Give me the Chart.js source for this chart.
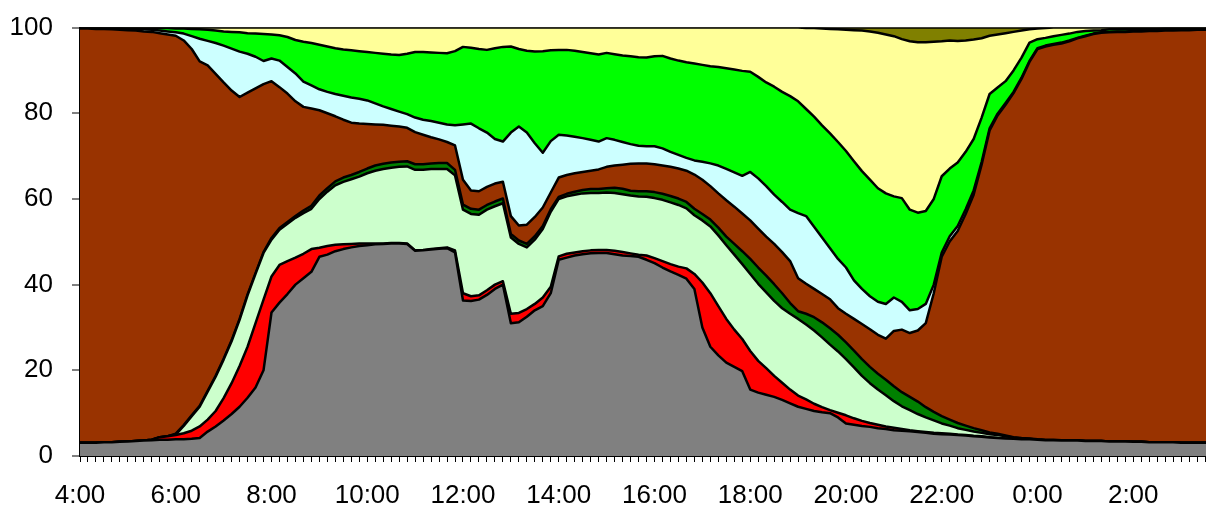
<!DOCTYPE html>
<html>
<head>
<meta charset="utf-8">
<script src="https://cdn.jsdelivr.net/npm/chart.js@4"></script>
<style>
  html, body { margin: 0; padding: 0; background: #fff; overflow: hidden; width: 1206px; height: 511px; }
  #wrap { width: 1240px; height: 518px; margin-top: -7px; }
  canvas { display: block; }
</style>
</head>
<body>
<div id="wrap"><canvas id="c" width="1240" height="518"></canvas></div>
<script>
const categories = [
'4:00','4:10','4:20','4:30','4:40','4:50','5:00','5:10','5:20','5:30','5:40','5:50',
'6:00','6:10','6:20','6:30','6:40','6:50','7:00','7:10','7:20','7:30','7:40','7:50',
'8:00','8:10','8:20','8:30','8:40','8:50','9:00','9:10','9:20','9:30','9:40','9:50',
'10:00','10:10','10:20','10:30','10:40','10:50','11:00','11:10','11:20','11:30','11:40','11:50',
'12:00','12:10','12:20','12:30','12:40','12:50','13:00','13:10','13:20','13:30','13:40','13:50',
'14:00','14:10','14:20','14:30','14:40','14:50','15:00','15:10','15:20','15:30','15:40','15:50',
'16:00','16:10','16:20','16:30','16:40','16:50','17:00','17:10','17:20','17:30','17:40','17:50',
'18:00','18:10','18:20','18:30','18:40','18:50','19:00','19:10','19:20','19:30','19:40','19:50',
'20:00','20:10','20:20','20:30','20:40','20:50','21:00','21:10','21:20','21:30','21:40','21:50',
'22:00','22:10','22:20','22:30','22:40','22:50','23:00','23:10','23:20','23:30','23:40','23:50',
'0:00','0:10','0:20','0:30','0:40','0:50','1:00','1:10','1:20','1:30','1:40','1:50',
'2:00','2:10','2:20','2:30','2:40','2:50','3:00','3:10','3:20','3:30','3:40','3:50'
];
const tickLabels = ['4:00','6:00','8:00','10:00','12:00','14:00','16:00','18:00','20:00','22:00','0:00','2:00'];
const yTicks = [0, 20, 40, 60, 80, 100];

const gray = [
3.1,3.1,3.1,3.2,3.2,3.3,3.4,3.5,3.6,3.7,
3.8,3.8,3.9,3.9,4.0,4.2,5.7,6.9,8.3,9.8,
11.5,13.6,16,20,33.5,35.8,37.8,40,41.5,43,
46.5,47,47.8,48.3,48.7,49,49.2,49.4,49.5,49.6,
49.6,49.5,47.9,48,48.2,48.4,48.5,47.5,36.3,36.2,
36.5,37.6,39,40,31,31.2,32.5,34,35,38,
45.8,46.3,46.8,47.1,47.3,47.4,47.4,47.1,46.8,46.7,
46.5,45.8,45,44,43.1,42.3,41.4,39,30,25.5,
23.5,21.8,20.8,19.8,15.5,14.8,14.3,13.8,13.1,12.3,
11.5,11,10.5,10.2,10,9,7.6,7.3,7,6.8,
6.5,6.3,6,5.9,5.8,5.6,5.4,5.2,5.1,5,
4.9,4.8,4.6,4.5,4.3,4.2,4.1,4,3.9,3.9,
3.8,3.7,3.7,3.6,3.6,3.6,3.5,3.5,3.5,3.4,
3.4,3.4,3.3,3.3,3.2,3.2,3.2,3.2,3.1,3.1,
3.1,3.1,3.1,3.1];
const red = [
0,0,0,0,0,0,0,0,0,0.1,
0.6,0.8,1.0,1.4,1.9,2.7,2.8,3.6,5.2,7.2,
9.5,11.9,15.0,16.5,8.4,8.8,7.7,6.3,5.7,5.3,
2.1,2.0,1.5,1.1,0.8,0.6,0.4,0.2,0.1,0.1,
0.1,0.1,0.1,0.1,0.1,0.1,0.2,0.5,1.7,1.1,
1.0,1.1,1.0,0.8,2.2,2.2,1.8,1.5,2.0,1.5,
0.8,0.9,0.7,0.7,0.7,0.7,0.7,0.8,0.8,0.6,
0.5,1.0,1.2,1.5,1.7,1.9,2.4,3.5,10.5,12.5,
11.5,10.2,8.7,7.5,9.0,7.4,6.2,4.9,4.0,3.2,
2.6,2.2,1.7,1.2,0.7,1.1,1.9,1.5,1.2,0.9,
0.8,0.6,0.6,0.4,0.2,0.2,0.2,0.2,0.2,0.2,
0.1,0.1,0.1,0.1,0.1,0,0,0,0,0,
0,0,0,0,0,0,0,0,0,0,
0,0,0,0,0,0,0,0,0,0,
0,0,0,0];
const lightGreen = [
0,0,0,0,0,0,0,0,0,0,
0,0,0.1,1.7,3.4,4.6,6.5,8.0,9.0,9.8,
10.8,12.0,11.5,10.9,8.6,8.2,8.7,9.3,9.5,9.4,
11.4,12.7,13.9,14.6,15.1,15.6,16.4,17.0,17.4,17.6,
17.8,18.0,18.8,18.7,18.7,18.5,18.3,17.5,19.5,19.2,
18.8,18.8,18.3,18.2,17.8,16.1,14.4,15.0,16.0,17.5,
13.4,13.4,13.5,13.5,13.4,13.3,13.4,13.5,13.5,13.5,
13.6,13.7,14.0,14.3,14.4,14.4,14.0,13.7,14.5,15.6,
16.5,17.2,17.5,17.5,18.0,18.0,17.7,17.5,17.4,17.7,
17.9,17.5,17.1,16.3,15.3,14.3,13.1,11.9,10.5,9.3,
8.2,7.3,6.2,5.3,4.7,4.0,3.4,2.9,2.3,1.9,
1.5,1.2,1.0,0.8,0.7,0.7,0.5,0.3,0.2,0.1,
0,0,0,0,0,0,0,0,0,0,
0,0,0,0,0,0,0,0,0,0,
0,0,0,0];
const darkGreen = [
0,0,0,0,0,0,0,0,0,0,
0,0,0.2,0.2,0.2,0.2,0.2,0.2,0.2,0.2,
0.2,0.2,0.2,0.2,0.4,0.4,0.4,0.4,0.6,0.7,
0.8,0.8,0.9,1.0,1.0,1.1,1.1,1.2,1.2,1.2,
1.2,1.2,1.3,1.3,1.3,1.4,1.4,1.3,1.2,1.2,
1.2,1.1,1.1,1.1,0.8,0.8,0.8,0.8,0.7,0.6,
0.5,0.6,0.7,0.8,0.9,0.9,1.0,1.2,1.3,1.1,
1.2,1.3,1.4,1.4,1.5,1.5,1.5,1.5,1.5,1.6,
1.8,2.0,2.5,3.0,3.5,3.8,3.9,3.9,3.5,2.5,
1.8,2.5,3.1,3.5,3.8,3.9,3.9,3.9,3.9,3.8,
3.7,3.6,3.5,3.3,3.1,2.9,2.4,2.0,1.7,1.4,
1.2,1.0,0.8,0.6,0.4,0.3,0.2,0.1,0.1,0.1,
0.1,0.1,0.1,0.1,0.1,0.1,0,0,0,0,
0,0,0,0,0,0,0,0,0,0,
0,0,0,0];
const brown = [
96.7,96.7,96.6,96.5,96.4,96.2,96.0,95.8,95.5,95.2,
94.3,93.8,92.9,89.8,85.5,80.4,76.0,70.5,64.5,58.3,
51.8,47.1,43.1,39.2,36.6,32.9,30.0,26.8,24.2,22.7,
19.9,17.5,15.2,13.5,12.2,11.3,10.4,9.6,9.1,8.6,
8.2,7.8,7.5,6.9,6.1,5.5,4.9,5.7,5.8,4.3,
4.3,4.2,4.2,3.9,4.2,3.5,4.5,4.5,4.3,3.9,
4.5,4.4,4.3,4.2,4.3,4.6,5.0,5.2,5.6,6.3,
6.5,6.5,6.5,6.6,6.8,7.0,7.3,8.0,8.0,7.8,
8.0,8.5,8.7,8.8,9.0,9.1,9.1,9.4,9.6,9.8,
7.7,7.0,6.6,6.6,6.8,6.2,6.7,7.4,8.2,8.8,
9.1,9.6,12.9,14.6,14.9,16.6,19.6,27.7,37.2,41.6,
44.8,49.4,54.5,62.0,70.5,74.3,77.2,80.3,83.8,87.9,
91.1,91.8,92.2,92.6,93.1,93.8,94.5,95.0,95.3,95.5,
95.6,95.6,95.8,95.8,96.0,96.0,96.1,96.1,96.3,96.3,
96.4,96.4,96.4,96.4];
const cyan = [
0.1,0.1,0.2,0.1,0.2,0.3,0.3,0.4,0.5,0.5,
0.6,0.7,0.8,1.6,3.0,5.3,5.7,7.2,8.6,9.8,
10.6,9.1,7.4,5.4,5.3,6.2,6.2,6.5,5.9,5.4,
4.9,5.0,5.2,5.6,5.9,5.8,5.5,4.9,4.3,3.9,
3.5,3.2,3.4,3.5,3.8,3.9,4.1,4.7,12.9,15.6,
14.7,12.7,10.4,9.4,19.5,23.1,21.5,17.2,12.8,12.0,
10.0,9.2,8.5,7.9,7.2,6.5,6.7,6.0,5.3,4.6,
4.1,4.0,4.2,4.0,3.5,3.2,3.0,3.3,4.2,5.3,
6.5,7.3,8.0,8.8,11.3,11.7,11.8,11.5,11.7,12.0,
15.2,15.8,14.5,13.2,11.9,11.5,10.8,9.0,8.2,7.7,
7.7,8.1,7.8,6.5,5.3,5.0,4.5,2.0,1.0,1.2,
1.2,1.1,1.0,0.6,0.5,0.4,0.4,0.3,0.3,0.2,
0.2,0.2,0.2,0.2,0.2,0.1,0.1,0.1,0.1,0.1,
0.1,0.1,0.1,0.1,0.1,0.1,0.1,0.1,0.1,0.1,
0.1,0.1,0.1,0.1];
const green = [
0,0,0,0.1,0.1,0.1,0.2,0.2,0.3,0.4,
0.6,0.8,0.9,1.2,1.7,2.2,2.6,2.9,3.3,3.9,
4.5,4.8,5.4,6.3,5.6,5.9,7.0,7.8,9.3,9.9,
10.4,10.6,10.7,10.8,11.0,11.1,11.3,11.8,12.3,12.7,
13.2,14.1,15.3,15.8,16.0,16.3,16.6,17.3,18.1,17.7,
18.5,19.3,21.2,22.1,20.1,18.1,19.1,21.4,23.7,21.2,
19.8,20.0,20.1,20.1,20.2,20.3,19.9,20.0,20.2,20.5,
20.7,20.7,21.0,21.6,21.8,22.0,22.3,22.6,22.6,22.7,
23.0,23.5,24.0,24.5,23.4,23.7,24.2,25.2,25.7,26.5,
26.1,25.0,25.7,26.2,26.8,27.3,27.2,27.8,27.5,27.2,
26.5,25.8,23.6,24.2,23.5,22.5,21.7,20.0,17.8,15.8,
14.8,13.4,12.0,10.4,8.0,6.1,5.1,5.0,4.7,4.3,
2.1,1.8,1.8,1.8,1.6,1.4,1.1,0.7,0.5,0.6,
0.5,0.6,0.5,0.5,0.4,0.4,0.4,0.4,0.3,0.3,
0.2,0.2,0.2,0.2];
const yellow = [
0.1,0.1,0.1,0.1,0.1,0.1,0.1,0.1,0.1,0.1,
0.1,0.1,0.2,0.2,0.3,0.4,0.5,0.7,0.9,1.0,
1.1,1.3,1.4,1.5,1.6,1.8,2.2,2.9,3.3,3.6,
4.0,4.4,4.8,5.1,5.3,5.5,5.7,5.9,6.1,6.3,
6.4,6.1,5.7,5.7,5.8,5.9,6.0,5.5,4.5,4.7,
5.0,5.2,4.8,4.5,4.4,5.0,5.4,5.6,5.5,5.3,
5.2,5.2,5.4,5.7,6.0,6.3,5.9,6.2,6.5,6.7,
6.9,7.0,6.7,6.6,7.2,7.7,8.1,8.4,8.7,9.0,
9.2,9.5,9.8,10.1,10.3,11.5,12.8,13.8,15.0,16.0,
17.2,18.9,20.7,22.6,24.4,26.3,28.3,30.6,32.8,34.6,
36.3,37.1,37.4,37.1,39.3,39.8,39.4,36.7,31.5,29.9,
28.4,26.0,23.2,18.5,13.6,12.4,11.2,9.0,6.3,3.1,
2.5,2.3,2.0,1.7,1.4,1.0,0.8,0.7,0.6,0.4,
0.4,0.3,0.3,0.3,0.3,0.3,0.2,0.2,0.2,0.2,
0.2,0.2,0.2,0.2];
const olive = [
0,0,0,0,0,0,0,0,0,0,
0,0,0,0,0,0,0,0,0,0,
0,0,0,0,0,0,0,0,0,0,
0,0,0,0,0,0,0,0,0,0,
0,0,0,0,0,0,0,0,0,0,
0,0,0,0,0,0,0,0,0,0,
0,0,0,0,0,0,0,0,0,0,
0,0,0,0,0,0,0,0,0,0,
0,0,0,0,0,0,0,0,0,0,
0,0.1,0.1,0.2,0.3,0.4,0.5,0.6,0.7,0.9,
1.2,1.6,2.0,2.7,3.2,3.4,3.4,3.3,3.2,3.1,
3.1,3.0,2.8,2.5,1.9,1.6,1.3,1.0,0.7,0.4,
0.2,0.1,0,0,0,0,0,0,0,0,
0,0,0,0,0,0,0,0,0,0,
0,0,0,0];

const seriesList = [
  { label: 'Series 1', data: gray,       color: '#808080' },
  { label: 'Series 2', data: red,        color: '#FF0000' },
  { label: 'Series 3', data: lightGreen, color: '#CCFFCC' },
  { label: 'Series 4', data: darkGreen,  color: '#008000' },
  { label: 'Series 5', data: brown,      color: '#993300' },
  { label: 'Series 6', data: cyan,       color: '#CCFFFF' },
  { label: 'Series 7', data: green,      color: '#00FF00' },
  { label: 'Series 8', data: yellow,     color: '#FFFF99' },
  { label: 'Series 9', data: olive,      color: '#808000' }
];

const FONT = { family: '"Liberation Sans", Arial, sans-serif', size: 26 };

new Chart(document.getElementById('c'), {
  type: 'line',
  data: {
    labels: categories,
    datasets: seriesList.map((s, i) => ({
      label: s.label,
      data: s.data,
      backgroundColor: s.color,
      borderColor: '#000000',
      borderWidth: 2.5,
      borderJoinStyle: 'round',
      pointRadius: 0,
      pointHoverRadius: 0,
      tension: 0,
      fill: i === 0 ? 'origin' : '-1'
    }))
  },
  options: {
    responsive: false,
    animation: false,
    devicePixelRatio: 1,
    layout: { padding: { top: 21, right: 19, left: 0, bottom: 0 } },
    plugins: { legend: { display: false }, tooltip: { enabled: false }, title: { display: false } },
    scales: {
      x: {
        type: 'category',
        offset: false,
        grid: { display: true, drawOnChartArea: false, drawTicks: true, tickLength: 6, tickColor: '#000', tickWidth: 1 },
        border: { display: true, color: '#000', width: 2 },
        ticks: {
          autoSkip: false, maxRotation: 0, minRotation: 0,
          color: '#000', font: FONT, padding: 18,
          callback: (v, i) => (i % 12 === 0 ? tickLabels[i / 12] : '')
        },
        afterFit: s => { s.height = 55; }
      },
      y: {
        stacked: true,
        min: 0, max: 100,
        afterBuildTicks: s => { s.ticks = yTicks.map(v => ({ value: v })); },
        grid: {
          drawTicks: true, tickLength: 8, tickColor: '#000', tickWidth: 1,
          color: ctx => (ctx.tick && ctx.tick.value === 100 ? '#808080' : 'rgba(0,0,0,0)'),
          lineWidth: 2
        },
        border: { display: true, color: '#000', width: 2 },
        ticks: { color: '#000', font: FONT, padding: 19 },
        afterFit: s => { s.width = 80; }
      }
    }
  }
});
</script>
</body>
</html>
